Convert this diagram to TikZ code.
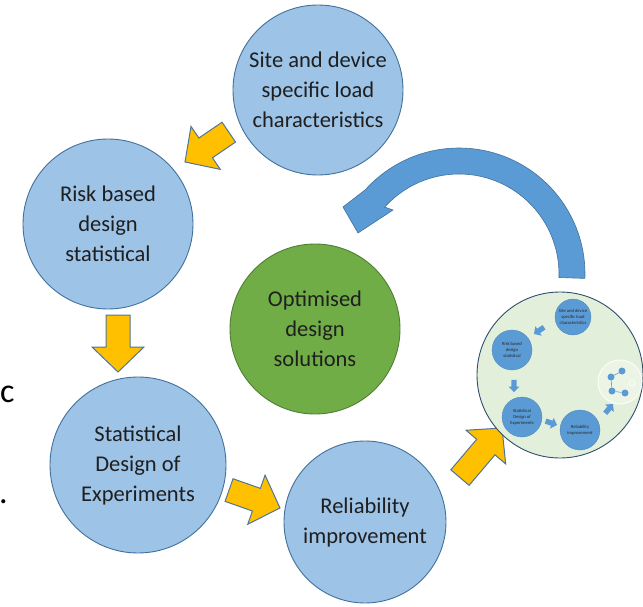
\documentclass[tikz,border=0pt]{standalone}
\usepackage{fontspec}
\setmainfont{Carlito}
\definecolor{lblue}{HTML}{9DC3E6}
\definecolor{edge}{HTML}{41719C}
\definecolor{ygold}{HTML}{FFC000}
\definecolor{mblue}{HTML}{5B9BD5}
\definecolor{gfill}{HTML}{70AD47}
\definecolor{gedge}{HTML}{507E32}
\definecolor{pale}{HTML}{E2EFDA}
\newcommand\blockarrow[5]{\begin{scope}[shift={#2},rotate=#3,scale=#5]\path[#1] (0,0) -- (-25,-26) -- (-25,-12) -- (-#4,-12) -- (-#4,12) -- (-25,12) -- (-25,26) -- cycle;\end{scope}}
\begin{document}
\begin{tikzpicture}[x=1pt,y=-1pt,
  bigc/.style={circle, draw=edge, line width=0.9pt, fill=lblue, minimum size=170pt, inner sep=0pt, align=center, font=\fontsize{22.5}{30}\selectfont, text=black!88},
  minic/.style={circle, fill=mblue, draw=mblue!85!black, line width=0.3pt, minimum size=40pt, inner sep=0pt, align=center, font=\fontsize{4.6}{6}\selectfont, text=black!85},
  yarr/.style={fill=ygold, draw=edge!75!gray, line width=1pt, line join=miter},
  barr/.style={fill=mblue, draw=edge, line width=0.6pt},
  marr/.style={fill=mblue, draw=none},
  dot/.style={circle, fill=mblue, minimum size=7pt, inner sep=0pt}
]
\useasboundingbox (0,0) rectangle (643,607);
\clip (0,0) rectangle (643,607);

% fragments at left edge
\node[anchor=base west, inner sep=0pt, font=\fontsize{34}{34}\selectfont] (fragc) at (0,402) {c};
\node[anchor=base west, inner sep=0pt, font=\fontsize{34}{34}\selectfont] (fragdot) at (-1,503) {.};

% blue curved arrow
\path[barr] plot[domain=2:-138, samples=60] ({459+126*cos(\x)},{274+126*sin(\x)})
  -- (343,207) -- (358,233) -- (393,210)
  -- plot[domain=-138:2, samples=60] ({459+100*cos(\x)},{274+100*sin(\x)}) -- cycle;

% main circles
\node[bigc] (site) at (318,90) {Site and device\\specific load\\characteristics};
\node[bigc] (risk) at (108,224) {Risk based\\design\\statistical};
\node[bigc, fill=gfill, draw=gedge] (opt) at (315,329) {Optimised\\design\\solutions};
\node[bigc, minimum size=176pt] (stat) at (138,465) {Statistical\\Design of\\Experiments};
\node[bigc, minimum size=162pt] (rel) at (365,522) {Reliability\\improvement};

% yellow block arrows
\blockarrow{yarr}{(185,162)}{214.3}{53}{1}
\blockarrow{yarr}{(118,372)}{270}{57}{1}
\blockarrow{yarr}{(280,508)}{-19.4}{54}{1}
\blockarrow{yarr}{(502,428)}{49.7}{65}{1}

% thumbnail circle
\node[circle, fill=pale, draw=edge!70!black, line width=0.9pt, minimum size=166pt] (thumb) at (560,375) {};
\node[minic, minimum size=36pt] (msite) at (573,317) {Site and device\\specific load\\characteristics};
\node[minic] (mrisk) at (512,350) {Risk based\\design\\statistical};
\node[minic] (mstat) at (522,417) {Statistical\\Design of\\Experiments};
\node[minic] (mrel) at (580,430) {Reliability\\improvement};
\blockarrow{marr}{(534,334)}{214}{55}{0.22}
\blockarrow{marr}{(514,392)}{270}{55}{0.22}
\blockarrow{marr}{(557,425)}{-19}{55}{0.22}
\blockarrow{marr}{(613,404)}{50}{55}{0.22}

% nested tiny circle
\node[circle, fill=pale!70!white, draw=white!85!pale, line width=1pt, minimum size=44pt] (nest) at (620,382) {};
\node[dot] (d1) at (622,371) {};
\node[dot] (d2) at (611,377) {};
\node[dot] (d3) at (612,391) {};
\node[dot] (d4) at (625,393) {};
\node[circle, draw=white, line width=0.6pt, minimum size=6pt, inner sep=0pt] (d5) at (632,383) {};
\draw[mblue, line width=0.6pt] (d1) -- (d2) -- (d3) -- (d4);
\end{tikzpicture}
\end{document}
